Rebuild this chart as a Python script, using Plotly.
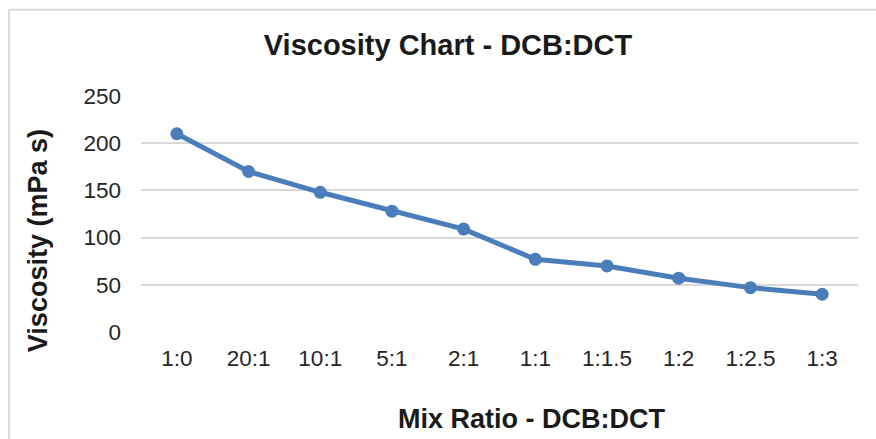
import plotly.graph_objects as go

categories = ["1:0", "20:1", "10:1", "5:1", "2:1", "1:1", "1:1.5", "1:2", "1:2.5", "1:3"]
viscosity = [210, 170, 148, 128, 109, 77, 70, 57, 47, 40]
y_ticks = [0, 50, 100, 150, 200, 250]

fig = go.Figure()
fig.add_trace(go.Scatter(
    x=categories, y=viscosity, mode="lines+markers",
    line=dict(color="#4A7EBB", width=5),
    marker=dict(color="#4A7EBB", size=13),
    showlegend=False,
))

font_family = "Liberation Sans, Arial, sans-serif"
border = dict(color="#D9D9D9", width=2)
fig.update_layout(
    width=876, height=439,
    margin=dict(l=141, r=18, t=96, b=107),
    paper_bgcolor="white", plot_bgcolor="white",
    font=dict(family=font_family, color="#222222"),
    title=dict(text="<b>Viscosity Chart - DCB:DCT</b>", x=0.5114, xanchor="center",
               y=0.8975, yanchor="middle", font=dict(size=29, color="#1a1a1a")),
    xaxis=dict(type="category", showgrid=False, zeroline=False, showline=False,
               tickfont=dict(size=22.5, color="#262626"), ticks="", ticklabelstandoff=10,
               range=[-0.5, 9.5]),
    yaxis=dict(range=[0, 250], tickvals=y_ticks, showgrid=True, gridcolor="#D9D9D9",
               gridwidth=1.5, zeroline=False, showline=False,
               tickfont=dict(size=22.5, color="#262626"), ticks="", ticklabelstandoff=19),
    shapes=[
        dict(type="line", xref="paper", yref="paper", x0=-0.184, x1=-0.184, y0=-0.6, y1=1.365,
             line=border, layer="below"),
        dict(type="line", xref="paper", yref="paper", x0=-0.184, x1=1.3, y0=1.365, y1=1.365,
             line=border, layer="below"),
    ],
    annotations=[
        dict(text="<b>Mix Ratio - DCB:DCT</b>", xref="paper", yref="paper",
             x=0.544, y=-0.368, xanchor="center", yanchor="middle", showarrow=False,
             font=dict(size=27, color="#1a1a1a")),
        dict(text="<b>Viscosity (mPa s)</b>", xref="paper", yref="paper",
             x=-0.1437, y=0.389, xanchor="center", yanchor="middle", textangle=-90,
             showarrow=False, font=dict(size=27, color="#1a1a1a")),
    ],
)
fig.write_html(
    "out.html",
    config={"displayModeBar": False},
    post_script="document.body.style.margin='0';document.body.style.overflow='hidden';",
)
